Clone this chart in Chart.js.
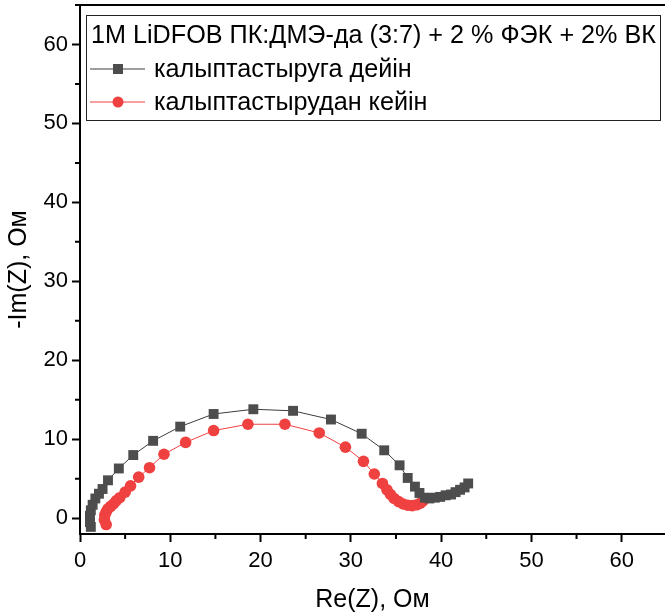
<!DOCTYPE html>
<html>
<head>
<meta charset="utf-8">
<script src="https://cdn.jsdelivr.net/npm/chart.js@4/dist/chart.umd.min.js"></script>
<style>
  html, body { margin: 0; padding: 0; background: #fff; }
  #wrap { width: 665px; height: 616px; }
</style>
</head>
<body>
<div id="wrap"><canvas id="chart" width="665" height="616"></canvas></div>
<script>
// -Im(Z) vs Re(Z), before / after formation
const legendTitle = '1M LiDFOB ПК:ДМЭ-да (3:7) + 2 % ФЭК + 2% ВК';
const seriesNames = ['калыптастыруга дейін', 'калыптастырудан кейін'];

const beforeRe = [1.2, 1.1, 1.1, 1.2, 1.4, 1.7, 2.1, 2.5, 3.1, 4.3, 5.9, 8.1, 11.1, 14.8, 19.2,
  23.6, 27.8, 31.2, 33.7, 35.4, 36.3, 37.1, 37.6, 38.2, 38.7, 39.3, 39.9, 40.5, 41.1, 41.6, 42.1, 42.6, 43.0];
const beforeIm = [-1.1, -0.5, 0.3, 1.0, 1.7, 2.5, 3.1, 3.7, 4.8, 6.3, 8.0, 9.8, 11.6, 13.2, 13.8,
  13.6, 12.5, 10.7, 8.6, 6.7, 5.1, 4.0, 3.2, 2.6, 2.5, 2.6, 2.7, 2.9, 3.0, 3.3, 3.6, 3.9, 4.4];

const afterRe = [2.9, 2.7, 2.75, 2.9, 3.1, 3.4, 3.7, 4.0, 4.4, 5.0, 5.6, 6.5, 7.7, 9.3, 11.7, 14.8, 18.6,
  22.7, 26.5, 29.4, 31.4, 32.6, 33.5, 34.0, 34.4, 34.8, 35.3, 35.8, 36.3, 36.8, 37.3, 37.7, 38.0];
const afterIm = [-0.8, -0.2, 0.4, 0.8, 1.2, 1.5, 1.8, 2.2, 2.6, 3.3, 4.1, 5.2, 6.4, 8.1, 9.6, 11.1, 11.9,
  11.9, 10.8, 9.0, 7.2, 5.6, 4.4, 3.6, 3.0, 2.5, 2.1, 1.8, 1.65, 1.6, 1.7, 1.9, 2.2];

const xTicks = [0, 10, 20, 30, 40, 50, 60];
const yTicks = [0, 10, 20, 30, 40, 50, 60];

const toPoints = (xs, ys) => xs.map((x, i) => ({ x: x, y: ys[i] }));

const FONT = "'Liberation Sans', Arial, sans-serif";
const GRAY = '#4d4d4d';
const RED = '#f04141';

// frame top line, minor ticks and the boxed legend
const extras = {
  id: 'extras',
  afterDraw(chart) {
    const ctx = chart.ctx;
    const a = chart.chartArea;
    const xs = chart.scales.x, ys = chart.scales.y;
    ctx.save();
    ctx.strokeStyle = '#000';
    ctx.lineWidth = 2;
    ctx.beginPath();
    ctx.moveTo(a.left - 5, a.top);
    ctx.lineTo(a.right, a.top);
    ctx.stroke();
    // minor ticks
    ctx.beginPath();
    for (let v = 5; v < 65; v += 10) {
      const px = xs.getPixelForValue(v);
      ctx.moveTo(px, a.bottom);
      ctx.lineTo(px, a.bottom + 5);
      const py = ys.getPixelForValue(v);
      ctx.moveTo(a.left, py);
      ctx.lineTo(a.left - 5, py);
    }
    ctx.stroke();

    // legend
    ctx.lineWidth = 1;
    ctx.strokeStyle = '#222';
    ctx.strokeRect(86.5, 15.5, 574, 105);
    ctx.fillStyle = '#000';
    ctx.font = '25.2px ' + FONT;
    ctx.textBaseline = 'middle';
    ctx.textAlign = 'left';
    ctx.fillText(legendTitle, 91, 36);
    const rows = [69, 102];
    chart.data.datasets.forEach((ds, i) => {
      const y = rows[i];
      ctx.strokeStyle = ds.borderColor;
      ctx.lineWidth = 1;
      ctx.beginPath();
      ctx.moveTo(90, y);
      ctx.lineTo(145, y);
      ctx.stroke();
      ctx.fillStyle = ds.pointBackgroundColor;
      if (ds.pointStyle === 'rect') {
        ctx.fillRect(113, y - 5, 10, 10);
      } else {
        ctx.beginPath();
        ctx.arc(118, y, 5.5, 0, Math.PI * 2);
        ctx.fill();
      }
      ctx.fillStyle = '#000';
      ctx.fillText(ds.label, 154, y + 1);
    });
    ctx.restore();
  }
};

new Chart(document.getElementById('chart'), {
  type: 'line',
  data: {
    datasets: [
      {
        label: seriesNames[0],
        data: toPoints(beforeRe, beforeIm),
        borderColor: '#3c3c3c',
        borderWidth: 1,
        pointStyle: 'rect',
        pointRadius: 7,
        pointBackgroundColor: GRAY,
        pointBorderWidth: 0,
        tension: 0
      },
      {
        label: seriesNames[1],
        data: toPoints(afterRe, afterIm),
        borderColor: RED,
        borderWidth: 1,
        pointStyle: 'circle',
        pointRadius: 5.8,
        pointBackgroundColor: RED,
        pointBorderWidth: 0,
        tension: 0
      }
    ]
  },
  options: {
    responsive: false,
    animation: false,
    devicePixelRatio: 1,
    layout: { autoPadding: false, padding: { top: 5, right: 0, left: 0, bottom: 0 } },
    plugins: {
      legend: { display: false },
      tooltip: { enabled: false }
    },
    scales: {
      x: {
        type: 'linear',
        min: 0,
        max: 64.8,
        afterBuildTicks: s => { s.ticks = xTicks.map(v => ({ value: v })); },
        afterFit: s => { s.height = 82; s.paddingLeft = 0; s.paddingRight = 0; },
        border: { display: true, color: '#000', width: 2 },
        grid: { drawOnChartArea: false, drawTicks: true, tickLength: 8, tickColor: '#000', tickWidth: 2 },
        ticks: { color: '#000', font: { family: FONT, size: 22 }, padding: 6, maxRotation: 0 },
        title: { display: true, text: 'Re(Z), Ом', color: '#000', font: { family: FONT, size: 25 }, padding: { top: 0, bottom: 1 } }
      },
      y: {
        type: 'linear',
        min: -2,
        max: 65,
        afterBuildTicks: s => { s.ticks = yTicks.map(v => ({ value: v })); },
        afterFit: s => { s.width = 80; s.paddingTop = 0; s.paddingBottom = 0; },
        border: { display: true, color: '#000', width: 2 },
        grid: { drawOnChartArea: false, drawTicks: true, tickLength: 8, tickColor: '#000', tickWidth: 2 },
        ticks: { color: '#000', font: { family: FONT, size: 22 }, padding: 4 },
        title: { display: true, text: '-Im(Z), Ом', color: '#000', font: { family: FONT, size: 25 }, padding: { top: 4, bottom: 2 } }
      }
    }
  },
  plugins: [extras]
});
</script>
</body>
</html>
